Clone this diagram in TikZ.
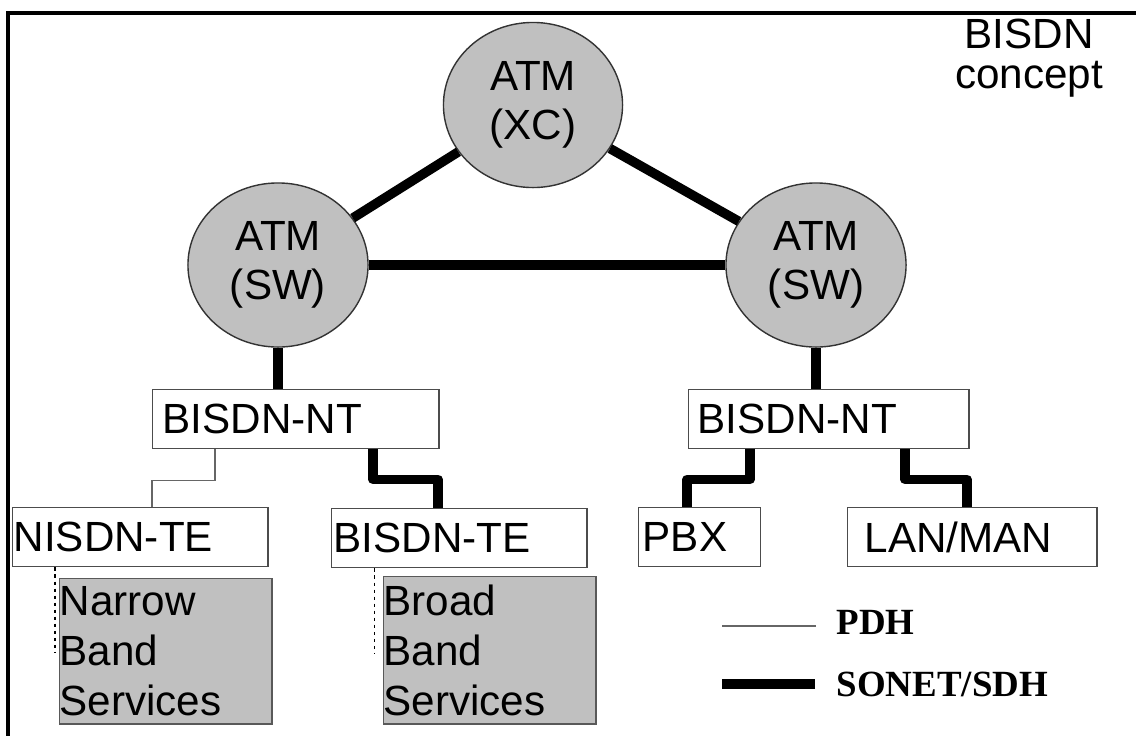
\documentclass[tikz,border=0pt]{standalone}
\usepackage{fontspec}
\setmainfont{Liberation Sans}
\newfontfamily\legendfont{Liberation Serif}
\usepackage{xcolor}
\usepackage{tikz}
\usetikzlibrary{positioning,shapes.geometric}

\definecolor{svcgray}{HTML}{C0C0C0}

\begin{document}
\begin{tikzpicture}[
    x=0.01cm, y=-0.01cm,
    box/.style={draw=black!70, fill=white, anchor=north west, minimum height=0.59cm, align=left, inner ysep=0pt, font=\fontsize{12}{14.2}\selectfont},
    svc/.style={draw=black!65, fill=svcgray, anchor=north west, minimum height=1.45cm, text width=2.12cm, inner sep=0pt, align=left, font=\fontsize{12}{14.2}\selectfont},
    atm/.style={ellipse, draw=black!80, fill=svcgray, minimum width=1.79cm, minimum height=1.65cm, inner sep=0pt, align=center, font=\fontsize{12}{14}\selectfont},
    sdh/.style={line width=0.095cm, line join=round},
    pdh/.style={draw=black!60, line width=0.35pt},
    svclink/.style={line width=0.3pt, dash pattern=on 1pt off 1pt},
    legend/.style={anchor=base west, inner sep=0pt, font=\legendfont\bfseries\fontsize{10.5}{12}\selectfont}
]
    \useasboundingbox (0,0) rectangle (1136,736);

    % frame and title
    \draw[line width=0.04cm] (1136,13) -| (8,736);
    \node[align=center, anchor=north, inner sep=0pt, font=\fontsize{12}{11.4}\selectfont] (title) at (1029,18) {BISDN\\concept};

    % ATM switches
    \node[atm] (xc) at (533,105) {ATM\\(XC)};
    \node[atm, minimum width=1.80cm, minimum height=1.64cm] (swl) at (278,265) {ATM\\(SW)};
    \node[atm, minimum width=1.80cm, minimum height=1.64cm] (swr) at (816,265) {ATM\\(SW)};

    % network terminations
    \node[box, text width=2.66cm, inner xsep=0.10cm] (ntl) at (152,389) {BISDN-NT};
    \node[box, text width=2.62cm, inner xsep=0.09cm] (ntr) at (688,389) {BISDN-NT};

    % terminal equipment
    \node[box, text width=2.53cm, inner xsep=0.01cm] (nte) at (12,507) {NISDN-TE};
    \node[box, text width=2.51cm, inner xsep=0.02cm] (bte) at (331,508) {BISDN-TE};
    \node[box, text width=1.14cm, inner xsep=0.04cm] (pbx) at (638,507) {PBX};
    \node[box, text width=2.15cm, inner xsep=0.17cm] (lan) at (847,507) {LAN/MAN};

    % services
    \node[svc] (nbs) at (59,578) {Narrow\\Band\\Services};
    \node[svc, minimum height=1.47cm] (bbs) at (383,576) {Broad\\Band\\Services};

    % SONET/SDH links
    \draw[sdh] (xc) -- (swl);
    \draw[sdh] (xc) -- (swr);
    \draw[sdh] (swl) -- (swr);
    \draw[sdh] (swl.south) -- (swl.south |- ntl.north);
    \draw[sdh] (swr.south) -- (swr.south |- ntr.north);
    \draw[sdh] ([xshift=2.21cm]ntl.south west) -- ++(0,30) -| ([xshift=1.07cm]bte.north west);
    \draw[sdh] ([xshift=0.62cm]ntr.south west) -- ++(0,30) -| ([xshift=0.49cm]pbx.north west);
    \draw[sdh] ([xshift=2.17cm]ntr.south west) -- ++(0,30) -| ([xshift=1.20cm]lan.north west);

    % PDH link
    \draw[pdh] ([xshift=0.63cm]ntl.south west) -- ++(0,31) -| ([xshift=1.40cm]nte.north west);

    % terminal to services
    \draw[svclink] ([xshift=0.43cm]nte.south west) -- ++(0,86);
    \draw[svclink] ([xshift=0.43cm]bte.south west) -- ++(0,85);

    % legend
    \node[legend] (pdhlbl) at (836,634) {PDH};
    \node[legend] (sdhlbl) at (836,696) {SONET/SDH};
    \draw[pdh] (pdhlbl.base west) ++(-20,-8) -- ++(-94,0);
    \draw[line width=0.1cm] (sdhlbl.base west) ++(-21,-12) -- ++(-93,0);
\end{tikzpicture}
\end{document}
